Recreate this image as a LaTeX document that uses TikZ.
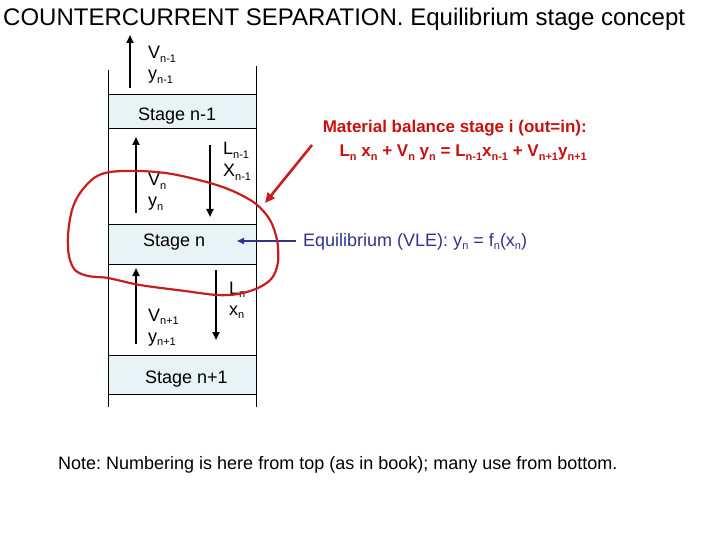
\documentclass[tikz,border=0pt]{standalone}
\usepackage{fontspec}
\setmainfont{Liberation Sans}
\usetikzlibrary{arrows.meta}
\definecolor{bandfill}{RGB}{232,243,246}
\definecolor{mbred}{RGB}{200,16,16}
\definecolor{curvered}{RGB}{200,30,30}
\definecolor{navyblue}{RGB}{51,51,140}
\newcommand\sbx[1]{\raisebox{-0.22em}{\fontsize{11}{11}\selectfont #1}}
\frenchspacing
\begin{document}
\begin{tikzpicture}[x=1pt,y=-1pt,
  lbl/.style={anchor=base west, inner sep=0pt, font=\fontsize{18}{20}\selectfont},
  mbtext/.style={anchor=base east, inner sep=0pt, text=mbred, font=\fontsize{17}{20}\selectfont\bfseries},
  eqtext/.style={anchor=base west, inner sep=0pt, text=navyblue, font=\fontsize{18}{20}\selectfont},
  wall/.style={draw=black, line width=0.7pt},
  band/.style={fill=bandfill, draw=none},
  flow/.style={line width=2pt, -{Triangle[length=8pt,width=7pt]}},
  redarrow/.style={draw=curvered, line width=2.6pt, -{Triangle[length=10pt,width=9pt]}},
  bluearrow/.style={draw=navyblue, line width=1.6pt, -{Triangle[length=7pt,width=6pt]}}]
\useasboundingbox (0,0) rectangle (720,540);

% title
\node[anchor=base west, inner sep=0pt, font=\fontsize{24}{26}\selectfont] (title) at (3,26)
  {COUNTERCURRENT SEPARATION. Equilibrium stage concept};

% stage bands
\fill[band] (108,94) rectangle (256,128);
\fill[band] (108,224) rectangle (256,264);
\fill[band] (108,355) rectangle (256,394);
\foreach \yy in {94,128,224,264,355,394} \draw[wall] (108,\yy) -- (256,\yy);
\draw[wall] (108,70) -- (108,407);
\draw[wall] (256,66) -- (256,407);

% stage labels
\node[lbl] (s1) at (138,121) {Stage n-1};
\node[lbl] (s2) at (143,247) {Stage n};
\node[lbl] (s3) at (145,383) {Stage n+1};

% stream labels
\node[lbl] (v0) at (148,59) {V\sbx{n-1}};
\node[lbl] (y0) at (148,80) {y\sbx{n-1}};
\node[lbl] (l0) at (223,155) {L\sbx{n-1}};
\node[lbl] (x0) at (223,177) {X\sbx{n-1}};
\node[lbl] (v1) at (148,186) {V\sbx{n}};
\node[lbl] (y1) at (148,207) {y\sbx{n}};
\node[lbl] (l1) at (229,294) {L\sbx{n}};
\node[lbl] (x1) at (229,315) {x\sbx{n}};
\node[lbl] (v2) at (148,321) {V\sbx{n+1}};
\node[lbl] (y2) at (148,342) {y\sbx{n+1}};

% flow arrows
\coordinate (a1s) at (130,88);  \coordinate (a1e) at (130,35);
\coordinate (a2s) at (136,213); \coordinate (a2e) at (136,137);
\coordinate (a3s) at (210,145); \coordinate (a3e) at (210,217);
\coordinate (a4s) at (136,344); \coordinate (a4e) at (136,268);
\coordinate (a5s) at (216,270); \coordinate (a5e) at (216,340);
\draw[flow] (a1s) -- (a1e);
\draw[flow] (a2s) -- (a2e);
\draw[flow] (a3s) -- (a3e);
\draw[flow] (a4s) -- (a4e);
\draw[flow] (a5s) -- (a5e);

% material balance
\node[mbtext] (mb1) at (587,133) {Material balance stage i (out=in):};
\node[mbtext] (mb2) at (587,157) {L\sbx{n} x\sbx{n} + V\sbx{n} y\sbx{n} = L\sbx{n-1}x\sbx{n-1} + V\sbx{n+1}y\sbx{n+1}};
\coordinate (ra1) at (312,145);
\coordinate (ra2) at (265,203);
\draw[redarrow] (ra1) -- (ra2);

% equilibrium
\node[eqtext] (eq) at (303,246) {Equilibrium (VLE): y\sbx{n} = f\sbx{n}(x\sbx{n})};
\coordinate (ba1) at (296,241);
\coordinate (ba2) at (237,241);
\draw[bluearrow] (ba1) -- (ba2);

% freehand loop
\draw[curvered, line width=2.2pt] plot[smooth cycle, tension=0.55] coordinates {
  (110,172) (140,171) (172,174) (210,183) (235,192) (256,204) (270,220) (277,240)
  (278,262) (272,278) (258,288) (238,294) (217,295) (185,291) (140,285) (108,278)
  (88,276) (75,270) (69,256) (68,235) (72,210) (80,193) (94,178)};

% note
\node[anchor=base west, inner sep=0pt, font=\fontsize{18}{20}\selectfont] (note) at (58,469)
  {Note: Numbering is here from top (as in book); many use from bottom.};
\end{tikzpicture}
\end{document}
